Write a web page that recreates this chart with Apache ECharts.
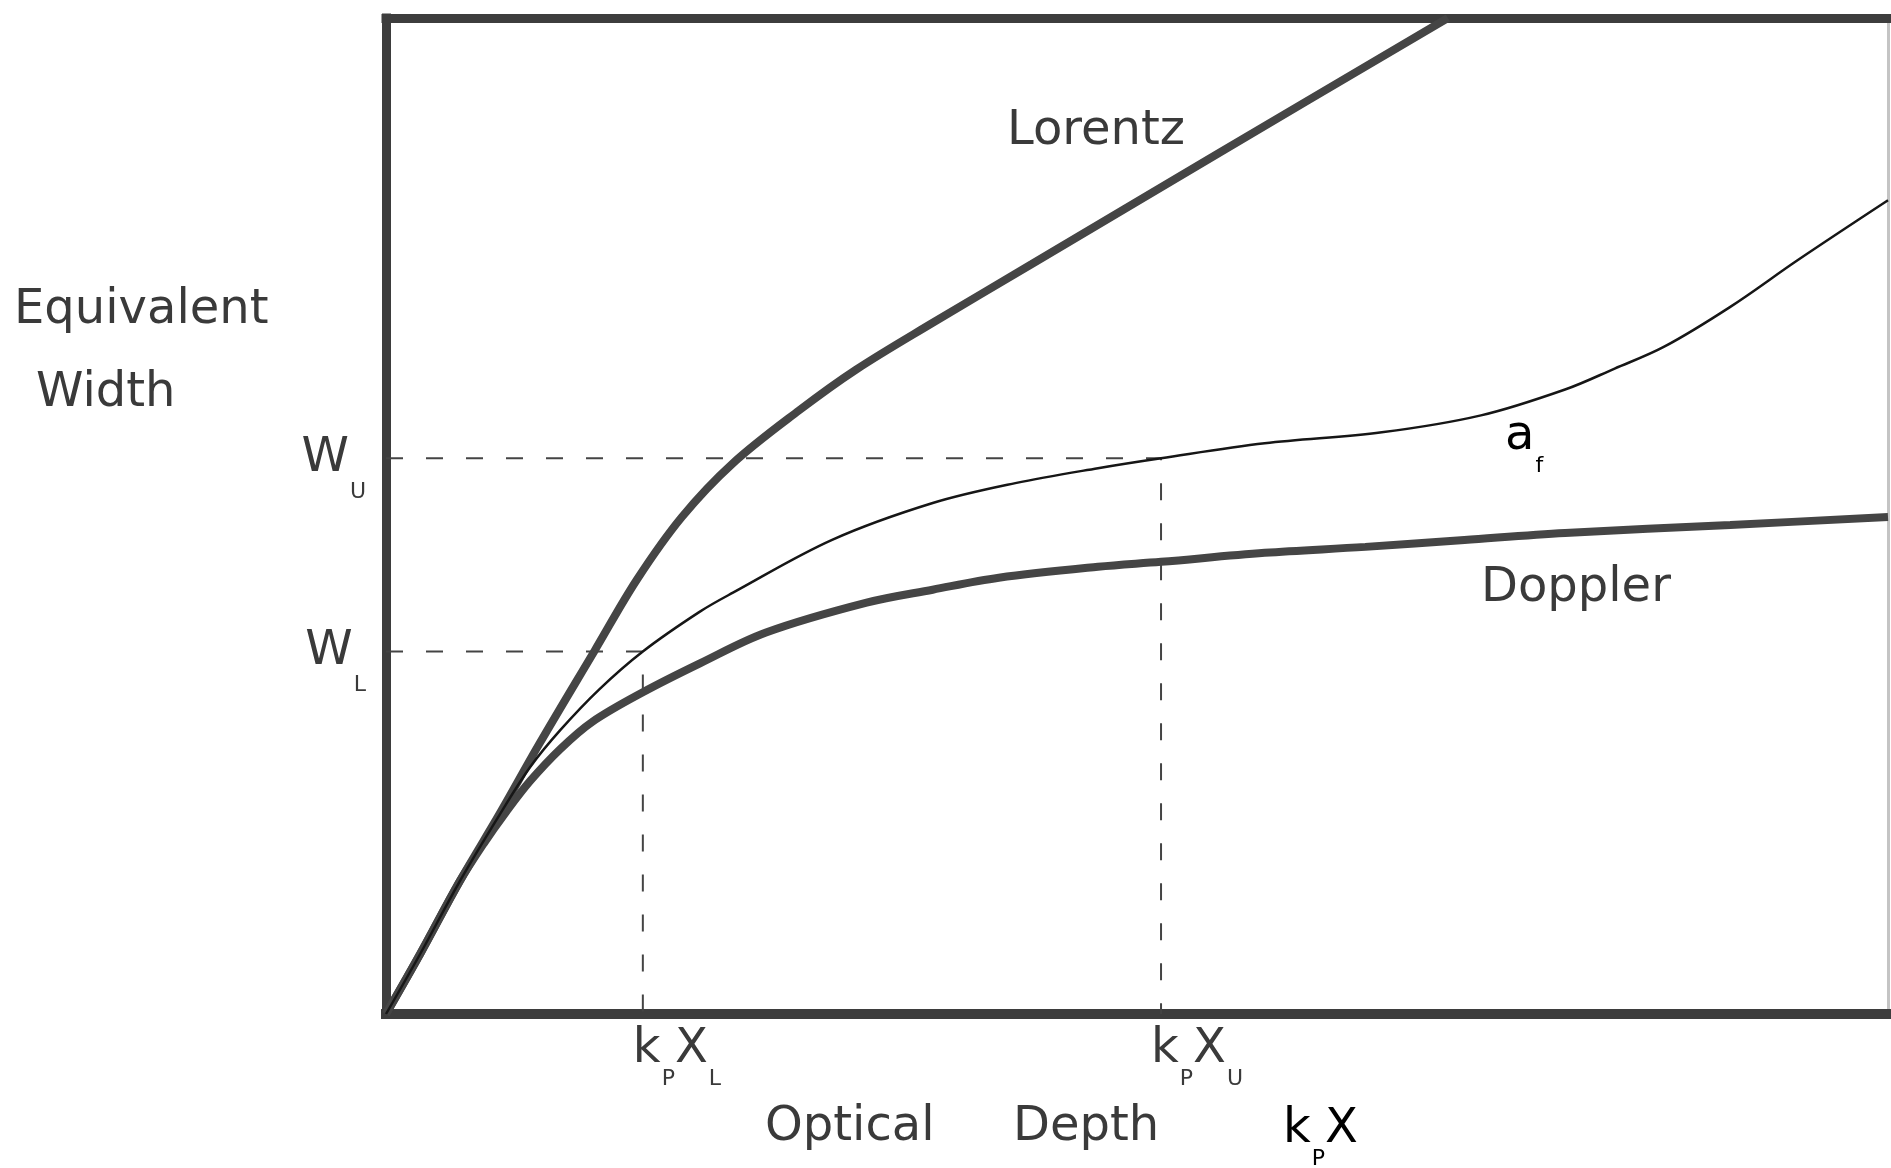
<!DOCTYPE html>
<html>
<head>
<meta charset="utf-8">
<script src="https://cdn.jsdelivr.net/npm/echarts@6/dist/echarts.min.js"></script>
<style>
  html, body { margin: 0; padding: 0; background: #ffffff; }
  #chart { width: 1891px; height: 1168px; }
</style>
</head>
<body>
<div id="chart"></div>
<script>
// Curve of growth: equivalent width against optical depth k_P X (arbitrary units, 0-100)

// Optical depths and equivalent widths that mark the lower / upper limits
const kpXL = 17.1, kpXU = 51.6;
const WL = 36.4, WU = 55.8;

// Tick labels on each axis
const xTickValues = [kpXL, kpXU];
const xTickSubs = ['L', 'U'];
const yTickValues = [WL, WU];
const yTickSubs = ['L', 'U'];

// Pure Lorentz profile
const lorentz = [[0,0],[2.3,6.1],[4.9,13.3],[7.6,20.2],[10.2,27.1],[13.9,36.5],[16.7,43.6],[19.7,49.9],[23.1,55.3],[27.5,60.6],[31.3,64.7],[36.4,69.4],[43.0,75.3],[55.4,86.4],[70.7,100]];
// Pure Doppler profile
const doppler = [[0,0],[2.3,6.1],[4.9,13.3],[6.5,17.1],[8.0,20.3],[9.6,23.4],[11.6,26.6],[13.7,29.3],[17.1,32.3],[20.9,35.2],[25.3,38.3],[32.0,41.3],[36.4,42.6],[40.8,43.8],[47.4,44.9],[51.6,45.4],[58.5,46.3],[65.2,46.9],[71.8,47.6],[78.5,48.3],[89.5,49.1],[100,49.9]];
// Voigt profile with damping parameter a_f
const af = [[0,0],[2.3,6.1],[4.9,13.3],[7.6,20.1],[9.6,24.8],[11.6,28.5],[14.2,32.6],[kpXL,WL],[20.9,40.4],[23.1,42.3],[29.7,47.6],[36.4,51.3],[41.9,53.3],[47.4,54.8],[kpXU,WU],[58.5,57.3],[66.3,58.4],[72.9,60.1],[78.5,62.7],[81.8,64.8],[85.1,67.0],[89.5,71.0],[94.0,75.7],[100,81.7]];

// Dashed guides from the limits to the axes
const guideL = [[0, WL], [kpXL, WL], [kpXL, 0]];
const guideU = [[0, WU], [kpXU, WU], [kpXU, 0]];

const FONT = "'DejaVu Sans', sans-serif";
const INK = '#3a3a3a';
const FRAME = '#3d3d3d';

const richStyles = {
  m: { fontSize: 48, fontFamily: FONT, color: INK, lineHeight: 48 },
  s: { fontSize: 22, fontFamily: FONT, color: INK, lineHeight: 10, verticalAlign: 'top', padding: [42, 0, 0, 1] }
};
const richStylesY = {
  m: richStyles.m,
  s: Object.assign({}, richStyles.s, { padding: [47, 0, 0, 1] })
};

function pick(values, subs, v) {
  let best = 0;
  values.forEach((t, i) => { if (Math.abs(t - v) < Math.abs(values[best] - v)) best = i; });
  return subs[best];
}

const chart = echarts.init(document.getElementById('chart'), null, { renderer: 'canvas' });

const curveBase = { type: 'line', symbol: 'none', smooth: 0.35, silent: true };

chart.setOption({
  backgroundColor: '#ffffff',
  animation: false,
  grid: { left: 386, right: 3, top: 18, bottom: 154, containLabel: false },
  xAxis: [
    {
      type: 'value', min: 0, max: 100, position: 'bottom',
      axisLine: { show: true, onZero: false, lineStyle: { color: FRAME, width: 10, cap: 'square' } },
      axisTick: { show: false },
      splitLine: { show: false },
      axisLabel: {
        show: true,
        customValues: xTickValues,
        margin: 12,
        align: 'left',
        padding: [0, 0, 0, -10],
        formatter: v => '{m|k}{s|P}{m|X}{s|' + pick(xTickValues, xTickSubs, v) + '}',
        rich: richStyles
      }
    },
    {
      type: 'value', min: 0, max: 100, position: 'top',
      axisLine: { show: true, onZero: false, lineStyle: { color: FRAME, width: 9, cap: 'square' } },
      axisTick: { show: false }, axisLabel: { show: false }, splitLine: { show: false }
    }
  ],
  yAxis: [
    {
      type: 'value', min: 0, max: 100, position: 'left',
      axisLine: { show: true, onZero: false, lineStyle: { color: FRAME, width: 9, cap: 'square' } },
      axisTick: { show: false },
      splitLine: { show: false },
      axisLabel: {
        show: true,
        customValues: yTickValues,
        margin: 20,
        align: 'right',
        formatter: v => '{m|W}{s|' + pick(yTickValues, yTickSubs, v) + '}',
        rich: richStylesY
      }
    },
    {
      type: 'value', min: 0, max: 100, position: 'right',
      axisLine: { show: true, onZero: false, lineStyle: { color: '#c4c4c4', width: 3 } },
      axisTick: { show: false }, axisLabel: { show: false }, splitLine: { show: false }
    }
  ],
  series: [
    Object.assign({ name: 'Lorentz', data: lorentz, lineStyle: { color: '#454545', width: 8 }, z: 4 }, curveBase),
    Object.assign({ name: 'Doppler', data: doppler, lineStyle: { color: '#454545', width: 8 }, z: 4 }, curveBase),
    Object.assign({ name: 'a_f', data: af, lineStyle: { color: '#161616', width: 2.5 }, z: 5 }, curveBase),
    {
      name: 'guide L', type: 'line', data: guideL, symbol: 'none',
      lineStyle: { color: '#444444', width: 2, type: [17, 23] }, z: 2, silent: true
    },
    {
      name: 'guide U', type: 'line', data: guideU, symbol: 'none',
      lineStyle: { color: '#444444', width: 2, type: [17, 23] }, z: 2, silent: true
    }
  ],
  graphic: [
    { type: 'text', x: 14, y: 311, style: { text: 'Equivalent', fontSize: 48, fontFamily: FONT, fill: INK, textAlign: 'left', textVerticalAlign: 'middle', align: 'left', verticalAlign: 'middle' } },
    { type: 'text', x: 36, y: 394, style: { text: 'Width', fontSize: 48, fontFamily: FONT, fill: INK, textAlign: 'left', textVerticalAlign: 'middle', align: 'left', verticalAlign: 'middle' } },
    { type: 'text', x: 1007, y: 132, style: { text: 'Lorentz', fontSize: 48, fontFamily: FONT, fill: INK, textAlign: 'left', textVerticalAlign: 'middle', align: 'left', verticalAlign: 'middle' } },
    { type: 'text', x: 1481, y: 589, style: { text: 'Doppler', fontSize: 48, fontFamily: FONT, fill: INK, textAlign: 'left', textVerticalAlign: 'middle', align: 'left', verticalAlign: 'middle' } },
    { type: 'text', x: 1505, y: 437, style: { text: '{m|a}{s|f}', rich: richStyles, textAlign: 'left', textVerticalAlign: 'middle', align: 'left', verticalAlign: 'middle' } },
    { type: 'text', x: 765, y: 1128, style: { text: 'Optical', fontSize: 48, fontFamily: FONT, fill: INK, textAlign: 'left', textVerticalAlign: 'middle', align: 'left', verticalAlign: 'middle' } },
    { type: 'text', x: 1013, y: 1128, style: { text: 'Depth', fontSize: 48, fontFamily: FONT, fill: INK, textAlign: 'left', textVerticalAlign: 'middle', align: 'left', verticalAlign: 'middle' } },
    { type: 'text', x: 1283, y: 1130, style: { text: '{m|k}{s|P}{m|X}', rich: richStyles, textAlign: 'left', textVerticalAlign: 'middle', align: 'left', verticalAlign: 'middle' } }
  ]
});
</script>
</body>
</html>
